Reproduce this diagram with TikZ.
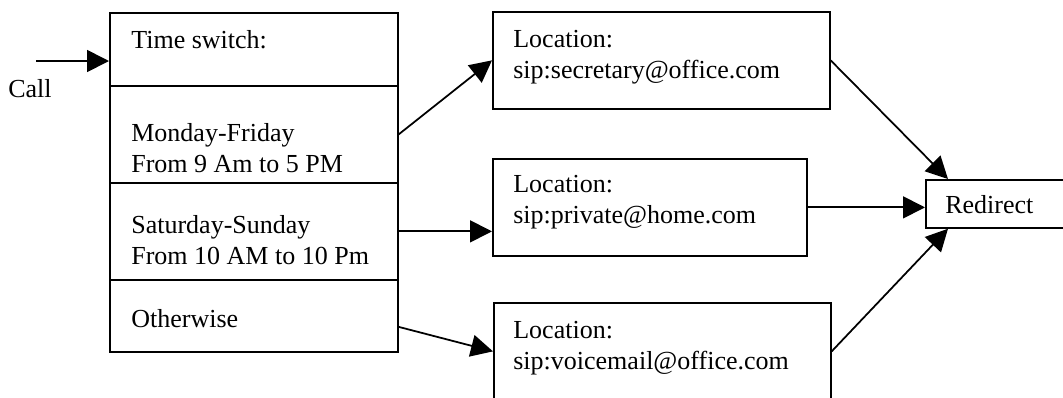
\documentclass[tikz,border=0pt]{standalone}
\usepackage{fontspec}
\setmainfont{Liberation Serif}
\usetikzlibrary{arrows.meta}

\tikzset{
  cellbox/.style={draw, line width=1pt, anchor=north west, inner sep=0pt, minimum width=5.76cm},
  locbox/.style={draw, line width=1pt, anchor=north west, inner sep=0pt, minimum height=1.94cm},
  txt/.style={anchor=base west, inner sep=0pt, align=left, font=\fontsize{14.8}{17.3}\selectfont},
  flow/.style={line width=1pt, -{Triangle[length=0.44cm, width=0.44cm]}}
}

\begin{document}
\begin{tikzpicture}[x=0.02cm, y=-0.02cm]
\useasboundingbox (0,0) rectangle (1063,397);

% Time switch table
\node[cellbox, minimum height=1.46cm] (time) at (109,12) {};
\node[cellbox, minimum height=1.94cm] (mon) at (109,85) {};
\node[cellbox, minimum height=1.94cm] (sat) at (109,182) {};
\node[cellbox, minimum height=1.44cm] (other) at (109,279) {};
\node[txt] (timetxt) at (131,48) {Time switch:};
\node[txt] (montxt) at (131,172) {Monday-Friday\\From 9 Am to 5 PM};
\node[txt] (sattxt) at (131,264) {Saturday-Sunday\\From 10 AM to 10 Pm};
\node[txt] (othertxt) at (131,327) {Otherwise};

% Locations
\node[locbox, minimum width=6.74cm] (loc1) at (492,11) {};
\node[locbox, minimum width=6.28cm] (loc2) at (492,158) {};
\node[locbox, minimum width=6.74cm] (loc3) at (493,302) {};
\node[txt] (loc1txt) at (513,78) {Location:\\sip:secretary@office.com};
\node[txt] (loc2txt) at (513,223) {Location:\\sip:private@home.com};
\node[txt] (loc3txt) at (513,369) {Location:\\sip:voicemail@office.com};

% Redirect
\node[draw, line width=1pt, anchor=north west, inner sep=0pt, minimum width=3cm, minimum height=0.96cm] (redirect) at (925,179) {};
\node[txt] (redirecttxt) at (945,213) {Redirect};

% Call
\coordinate (callin) at (36,61);
\node[txt] (call) at (8,97) {Call};

% Arrows
\draw[flow] (callin) -- (callin -| time.west);
\draw[flow] (mon.east) -- (loc1.west);
\draw[flow] (sat.east) -- (sat.east -| loc2.west);
\draw[flow] ([yshift=-0.22cm]other.east) -- (loc3.west);
\draw[flow] (loc1.east) -- ([xshift=0.46cm]redirect.north west);
\draw[flow] (loc2.east) -- (loc2.east -| redirect.west);
\draw[flow] (loc3.east) -- ([xshift=0.46cm]redirect.south west);

\end{tikzpicture}
\end{document}
